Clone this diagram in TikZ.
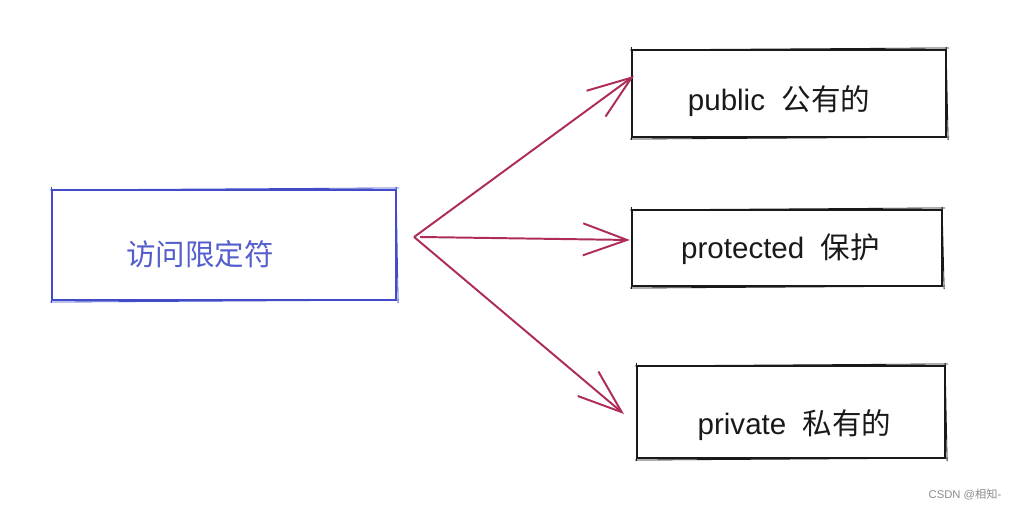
\documentclass[tikz,border=0pt]{standalone}
\usepackage{fontspec}
\setmainfont{Liberation Sans}
\newfontfamily\cjk{Noto Sans CJK SC}
\usetikzlibrary{calc}
\usetikzlibrary{positioning}
\usetikzlibrary{arrows.meta}

\definecolor{accblue}{RGB}{66,76,200}
\definecolor{acctext}{RGB}{84,94,204}
\definecolor{linkred}{RGB}{174,44,90}
\definecolor{inkblack}{RGB}{25,25,25}

% second, thinner stroke round a box
\newcommand{\roughbox}[2]{
    \draw [#2, line width=0.6pt] ($(#1.north west)+(-1,1)$) -- ($(#1.north east)+(2,-1)$);
    \draw [#2, line width=0.6pt] ($(#1.north east)+(-1,-2)$) -- ($(#1.south east)+(1,2)$);
    \draw [#2, line width=0.6pt] ($(#1.south east)+(2,-1)$) -- ($(#1.south west)+(-1,1)$);
    \draw [#2, line width=0.6pt] ($(#1.south west)+(1,2)$) -- ($(#1.north west)+(1,-2)$);
}

\begin{document}
\begin{tikzpicture}[x=0.025cm, y=-0.025cm]
    \tikzset{
        box/.style={draw, line width=1.5pt, inner sep=0pt},
        label/.style={inner sep=0pt, font=\fontsize{21}{25}\selectfont},
        conn/.style={linkred, line width=1.4pt,
            -{Straight Barb[length=1.1cm, width=0.8cm, line width=1.4pt]}}
    }

    % Frame
    \useasboundingbox (0,0) rectangle (1019,510);

    % Boxes
    \node [box, accblue, minimum width=8.6cm, minimum height=2.75cm] (acc) at (224,245) {};
    \node [box, inkblack, minimum width=7.85cm, minimum height=2.175cm] (pub) at (789,93.5) {};
    \node [box, inkblack, minimum width=7.75cm, minimum height=1.9cm] (prot) at (787,248) {};
    \node [box, inkblack, minimum width=7.7cm, minimum height=2.3cm] (priv) at (791,412) {};

    \roughbox{acc}{accblue}
    \roughbox{pub}{inkblack}
    \roughbox{prot}{inkblack}
    \roughbox{priv}{inkblack}

    % Texts
    \node [label, acctext] (acclabel) at (200,254) {\cjk 访问限定符};
    \node [label, inkblack] (publabel) at (779,101) {public\ \ {\cjk 公有的}};
    \node [label, inkblack] (protlabel) at (780.5,249) {protected\ \ {\cjk 保护}};
    \node [label, inkblack] (privlabel) at (794.5,425) {private\ \ {\cjk 私有的}};

    % Arrows
    \coordinate (src) at ($(acc.east)+(17,-8)$);
    \draw [conn] (src) -- ($(pub.north west)+(3,27)$);
    \draw [conn] ($(src)+(6,0)$) -- ($(prot.west)+(-1,-8)$);
    \draw [conn] (src) -- ($(priv.west)+(-12,2)$);

    % Watermark
    \node [inner sep=0pt, gray!90, font=\fontsize{8}{10}\selectfont] (mark) at (965,495) {CSDN @{\cjk 相知}-};
\end{tikzpicture}
\end{document}
